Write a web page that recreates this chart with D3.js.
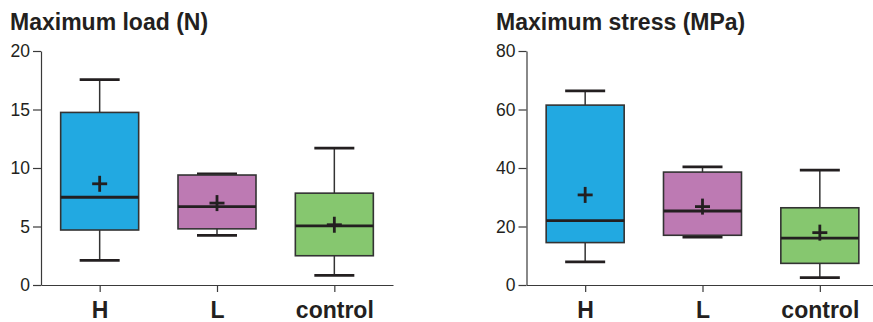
<!DOCTYPE html>
<html>
<head>
<meta charset="utf-8">
<script src="https://cdn.jsdelivr.net/npm/d3@7"></script>
<style>
    body { margin: 0; background: #fff; }
    svg { display: block; font-family: 'Liberation Sans', Arial, sans-serif; }
</style>
</head>
<body>
<div id="chart"></div>
<script>
const categories = ['H', 'L', 'control'];
const colors = ['#22a9e1', '#bd7ab3', '#86c76f'];

// Maximum load (N)
const loadMin = [2.1, 4.25, 0.83];
const loadQ1 = [4.7, 4.8, 2.5];
const loadMedian = [7.5, 6.7, 5.05];
const loadQ3 = [14.75, 9.4, 7.85];
const loadMax = [17.55, 9.5, 11.7];
const loadMean = [8.65, 7.0, 5.15];
const loadTicks = [0, 5, 10, 15, 20];

// Maximum stress (MPa)
const stressMin = [7.9, 16.4, 2.5];
const stressQ1 = [14.5, 17.0, 7.4];
const stressMedian = [22.0, 25.3, 16.0];
const stressQ3 = [61.5, 38.6, 26.4];
const stressMax = [66.4, 40.4, 39.3];
const stressMean = [30.8, 26.8, 17.9];
const stressTicks = [0, 20, 40, 60, 80];

const width = 873;
const height = 322;

const svg = d3.select('#chart')
    .append('svg')
    .attr('width', width)
    .attr('height', height);

function drawPanel(opts) {
    const g = svg.append('g');
    const x0 = opts.left;
    const plotW = 352;
    const top = 51, bottom = 285;

    const x = d3.scalePoint()
        .domain(categories)
        .range([x0, x0 + plotW])
        .padding(0.5);

    const y = d3.scaleLinear()
        .domain([0, opts.ticks[opts.ticks.length - 1]])
        .range([bottom, top]);

    // title
    g.append('text')
        .attr('x', opts.titleX)
        .attr('y', 30)
        .attr('font-size', 23)
        .attr('font-weight', 'bold')
        .attr('fill', '#231f20')
        .text(opts.title);

    // y axis
    const yAxis = g.append('g')
        .attr('transform', `translate(${x0},0)`)
        .call(d3.axisLeft(y).tickValues(opts.ticks).tickSize(8).tickSizeOuter(0).tickPadding(3));
    yAxis.select('.domain').attr('stroke', '#3a3a3a').attr('stroke-width', 1.2);
    yAxis.selectAll('.tick line').attr('stroke', '#3a3a3a').attr('stroke-width', 1.2);
    yAxis.selectAll('.tick text')
        .attr('font-size', 17.5)
        .attr('fill', '#231f20')
        .attr('font-family', "'Liberation Sans', Arial, sans-serif");

    // x axis
    const xAxis = g.append('g')
        .attr('transform', `translate(0,${bottom})`)
        .call(d3.axisBottom(x).tickSize(7).tickSizeOuter(0).tickPadding(10));
    xAxis.select('.domain').attr('stroke', '#3a3a3a').attr('stroke-width', 1.2);
    xAxis.selectAll('.tick line').attr('stroke', '#3a3a3a').attr('stroke-width', 1.2);
    xAxis.selectAll('.tick text')
        .attr('font-size', 23)
        .attr('font-weight', 'bold')
        .attr('fill', '#231f20')
        .attr('dy', '0.71em')
        .attr('font-family', "'Liberation Sans', Arial, sans-serif");

    const boxW = 78, capW = 40, plus = 7.5;
    const rows = categories.map((c, i) => ({
        cat: c, color: colors[i],
        min: opts.min[i], q1: opts.q1[i], med: opts.median[i],
        q3: opts.q3[i], max: opts.max[i], mean: opts.mean[i]
    }));

    const box = g.selectAll('.box')
        .data(rows)
        .enter()
        .append('g')
        .attr('class', 'box');

    // whiskers
    box.append('line')
        .attr('x1', d => x(d.cat)).attr('x2', d => x(d.cat))
        .attr('y1', d => y(d.max)).attr('y2', d => y(d.q3))
        .attr('stroke', '#333').attr('stroke-width', 1.5);
    box.append('line')
        .attr('x1', d => x(d.cat)).attr('x2', d => x(d.cat))
        .attr('y1', d => y(d.q1)).attr('y2', d => y(d.min))
        .attr('stroke', '#333').attr('stroke-width', 1.5);
    box.append('line')
        .attr('x1', d => x(d.cat) - capW / 2).attr('x2', d => x(d.cat) + capW / 2)
        .attr('y1', d => y(d.max)).attr('y2', d => y(d.max))
        .attr('stroke', '#231f20').attr('stroke-width', 2.8);
    box.append('line')
        .attr('x1', d => x(d.cat) - capW / 2).attr('x2', d => x(d.cat) + capW / 2)
        .attr('y1', d => y(d.min)).attr('y2', d => y(d.min))
        .attr('stroke', '#231f20').attr('stroke-width', 2.8);

    // box
    box.append('rect')
        .attr('x', d => x(d.cat) - boxW / 2)
        .attr('width', boxW)
        .attr('y', d => y(d.q3))
        .attr('height', d => y(d.q1) - y(d.q3))
        .attr('fill', d => d.color)
        .attr('stroke', '#333')
        .attr('stroke-width', 1.6);

    // median
    box.append('line')
        .attr('x1', d => x(d.cat) - boxW / 2).attr('x2', d => x(d.cat) + boxW / 2)
        .attr('y1', d => y(d.med)).attr('y2', d => y(d.med))
        .attr('stroke', '#231f20').attr('stroke-width', 2.8);

    // mean plus
    box.append('line')
        .attr('x1', d => x(d.cat) - plus).attr('x2', d => x(d.cat) + plus)
        .attr('y1', d => y(d.mean)).attr('y2', d => y(d.mean))
        .attr('stroke', '#231f20').attr('stroke-width', 2.8);
    box.append('line')
        .attr('x1', d => x(d.cat)).attr('x2', d => x(d.cat))
        .attr('y1', d => y(d.mean) - plus - 0.5).attr('y2', d => y(d.mean) + plus + 0.5)
        .attr('stroke', '#231f20').attr('stroke-width', 2.8);
}

drawPanel({
    left: 41, titleX: 10, title: 'Maximum load (N)', ticks: loadTicks,
    min: loadMin, q1: loadQ1, median: loadMedian, q3: loadQ3, max: loadMax, mean: loadMean
});

drawPanel({
    left: 526.5, titleX: 496, title: 'Maximum stress (MPa)', ticks: stressTicks,
    min: stressMin, q1: stressQ1, median: stressMedian, q3: stressQ3, max: stressMax, mean: stressMean
});
</script>
</body>
</html>
